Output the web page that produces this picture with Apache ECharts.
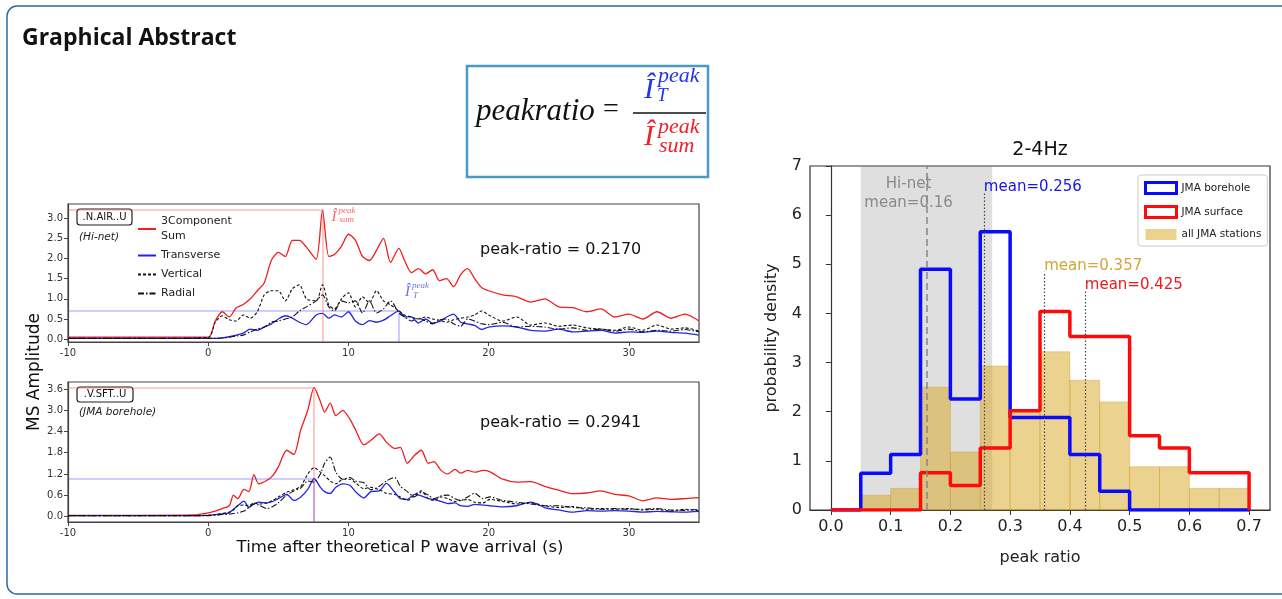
<!DOCTYPE html>
<html>
<head>
<meta charset="utf-8">
<script src="https://cdn.jsdelivr.net/npm/echarts@6/dist/echarts.min.js"></script>
<style>
  html, body { margin: 0; padding: 0; background: #fff; }
  #main { width: 1282px; height: 599px; }
</style>
</head>
<body>
<div id="main"></div>
<script>
// ---- waveform panel 1 (.N.AIR..U, Hi-net) ----
const topTime = [-10, -5, 0, 0.5, 1, 1.5, 2, 2.5, 3, 3.5, 4, 4.5, 5, 5.5, 6, 6.5, 7, 7.7, 8.15, 8.6,
    9, 9.5, 10, 10.5, 11, 11.5, 12, 12.5, 13, 13.6, 14, 14.5, 15, 15.5, 16, 16.5, 17, 17.5, 18, 18.5,
    19, 19.5, 20, 21, 22, 23, 24, 25, 26, 27, 28, 29, 30, 31, 32, 33, 34, 35];
const topSum = [0.05, 0.05, 0.05, 0.45, 0.68, 0.55, 0.78, 0.86, 1.0, 1.2, 1.4, 1.95, 2.15, 2.05, 2.45, 2.45, 2.28, 1.98, 3.2, 2.05,
    2.1, 2.3, 2.6, 2.45, 2.05, 1.95, 2.2, 2.5, 1.9, 2.25, 1.95, 1.65, 1.75, 1.62, 1.72, 1.45, 1.5, 1.3, 1.6, 1.75,
    1.5, 1.28, 1.2, 1.1, 1.05, 0.92, 1.0, 0.8, 0.78, 0.68, 0.75, 0.55, 0.62, 0.5, 0.68, 0.52, 0.62, 0.45];
const topTrans = [0.02, 0.02, 0.02, 0.02, 0.03, 0.06, 0.1, 0.15, 0.25, 0.22, 0.3, 0.38, 0.5, 0.58, 0.52, 0.42, 0.36, 0.6, 0.64, 0.52,
    0.6, 0.55, 0.68, 0.45, 0.36, 0.46, 0.42, 0.47, 0.58, 0.7, 0.56, 0.55, 0.4, 0.5, 0.4, 0.44, 0.55, 0.62, 0.42, 0.38,
    0.34, 0.24, 0.3, 0.33, 0.3, 0.22, 0.2, 0.25, 0.18, 0.2, 0.22, 0.15, 0.18, 0.17, 0.2, 0.17, 0.15, 0.1];
const topVert = [0.02, 0.02, 0.04, 0.42, 0.58, 0.48, 0.45, 0.6, 0.52, 0.68, 1.1, 1.2, 1.2, 0.95, 1.25, 1.35, 1.0, 0.95, 1.35, 0.85,
    0.75, 1.0, 1.15, 0.8, 1.05, 0.9, 1.2, 0.95, 0.85, 0.7, 0.6, 0.55, 0.5, 0.55, 0.5, 0.47, 0.42, 0.48, 0.52, 0.55,
    0.6, 0.7, 0.6, 0.45, 0.55, 0.35, 0.4, 0.32, 0.35, 0.28, 0.25, 0.22, 0.3, 0.22, 0.35, 0.25, 0.28, 0.2];
const topRad = [0.02, 0.02, 0.02, 0.02, 0.03, 0.05, 0.08, 0.1, 0.18, 0.25, 0.3, 0.42, 0.45, 0.5, 0.55, 0.7, 0.8, 0.95, 1.1, 0.8,
    0.7, 0.95, 0.9, 0.95, 0.65, 0.95, 0.65, 0.75, 0.95, 0.65, 0.55, 0.45, 0.52, 0.45, 0.38, 0.48, 0.5, 0.38, 0.32, 0.5,
    0.45, 0.38, 0.36, 0.42, 0.3, 0.32, 0.3, 0.25, 0.28, 0.22, 0.25, 0.2, 0.25, 0.18, 0.22, 0.2, 0.24, 0.18];

// ---- waveform panel 2 (.V.SFT..U, JMA borehole) ----
const botTime = [-10, -5, -1, 0, 0.5, 1, 1.5, 1.8, 2.1, 2.55, 2.9, 3.26, 3.6, 4.2, 4.6, 5, 5.6, 6.1, 6.6, 7.1, 7.55,
    8, 8.3, 8.7, 9.1, 9.6, 10.1, 10.5, 11.1, 11.6, 12.2, 12.7, 13.3, 13.7, 14.2, 14.7, 15.2, 15.7, 16.1, 16.6,
    17.1, 17.6, 18, 18.5, 19, 19.6, 20.1, 21, 22, 23, 24, 25, 26, 27, 28, 29, 30, 31, 32, 33, 34, 35];
const botSum = [0.03, 0.03, 0.04, 0.1, 0.15, 0.22, 0.3, 0.6, 0.5, 0.76, 0.7, 1.18, 0.92, 1.02, 1.15, 1.4, 1.87, 1.75, 2.45, 3.0, 3.65,
    3.25, 2.95, 3.2, 2.85, 3.0, 2.75, 2.45, 2.02, 2.15, 2.33, 2.1, 1.92, 1.95, 1.5, 1.72, 1.87, 1.5, 1.55, 1.3,
    1.2, 1.33, 1.22, 1.3, 1.25, 1.3, 1.26, 1.05, 0.97, 0.98, 0.85, 0.74, 0.64, 0.66, 0.72, 0.62, 0.58, 0.44, 0.52, 0.48, 0.5, 0.53];
const botTrans = [0.02, 0.02, 0.02, 0.03, 0.05, 0.07, 0.1, 0.2, 0.3, 0.43, 0.25, 0.35, 0.4, 0.38, 0.42, 0.5, 0.62, 0.45, 0.55, 0.76, 1.07,
    0.82, 0.7, 0.65, 0.82, 0.92, 0.88, 0.7, 0.52, 0.7, 0.72, 0.93, 0.68, 0.5, 0.48, 0.62, 0.58, 0.5, 0.48, 0.42,
    0.36, 0.38, 0.3, 0.28, 0.34, 0.32, 0.3, 0.27, 0.3, 0.4, 0.25, 0.18, 0.12, 0.16, 0.15, 0.16, 0.15, 0.12, 0.14, 0.13, 0.12, 0.14];
const botVert = [0.02, 0.02, 0.02, 0.03, 0.05, 0.08, 0.12, 0.18, 0.3, 0.32, 0.3, 0.38, 0.35, 0.38, 0.45, 0.55, 0.68, 0.75, 0.85, 1.2, 1.38,
    1.25, 1.15, 1.0, 0.92, 1.05, 1.05, 0.95, 0.78, 0.82, 0.75, 0.65, 0.62, 0.55, 0.45, 0.6, 0.72, 0.5, 0.45, 0.55,
    0.5, 0.42, 0.45, 0.48, 0.4, 0.38, 0.48, 0.42, 0.35, 0.38, 0.3, 0.25, 0.28, 0.2, 0.22, 0.2, 0.22, 0.18, 0.2, 0.15, 0.2, 0.16];
const botRad = [0.02, 0.02, 0.02, 0.02, 0.03, 0.05, 0.06, 0.08, 0.1, 0.15, 0.25, 0.35, 0.32, 0.22, 0.28, 0.38, 0.6, 0.72, 0.8, 1.0, 0.97,
    1.2, 1.5, 1.68, 1.25, 1.05, 1.1, 1.0, 0.95, 0.75, 0.85, 1.0, 1.1, 0.85, 0.7, 0.55, 0.68, 0.6, 0.5, 0.58,
    0.6, 0.5, 0.45, 0.55, 0.65, 0.5, 0.55, 0.45, 0.4, 0.35, 0.3, 0.3, 0.25, 0.24, 0.2, 0.22, 0.2, 0.2, 0.22, 0.18, 0.17, 0.2];

const waveXTicks = [-10, 0, 10, 20, 30];
const topYTicks = [0, 0.5, 1, 1.5, 2, 2.5, 3];
const botYTicks = [0, 0.6, 1.2, 1.8, 2.4, 3, 3.6];

// ---- peak ratio histogram (2-4Hz) ----
const binEdges = [0, 0.05, 0.1, 0.15, 0.2, 0.25, 0.3, 0.35, 0.4, 0.45, 0.5, 0.55, 0.6, 0.65, 0.7];
const boreholeDens = [0, 0.75, 1.13, 4.9, 2.26, 5.66, 1.88, 1.88, 1.13, 0.38, 0, 0, 0, 0];
const surfaceDens = [0, 0, 0, 0.76, 0.5, 1.26, 2.02, 4.04, 3.53, 3.53, 1.51, 1.26, 0.76, 0.76];
const allJmaDens = [0, 0.3, 0.44, 2.5, 1.18, 2.93, 1.98, 3.22, 2.64, 2.2, 0.88, 0.88, 0.44, 0.44];
const hinetSpan = [0.05, 0.27];
const meanNames = ["Hi-net", "JMA borehole", "all JMA stations", "JMA surface"];
const meanValues = [0.16, 0.256, 0.357, 0.425];
const histXTicks = [0, 0.1, 0.2, 0.3, 0.4, 0.5, 0.6, 0.7];

const FONT = "DejaVu Sans";
const pairs = (xs, ys) => xs.map((x, i) => [x, ys[i]]);
const stepData = (vals) => {
    const pts = vals.map((v, i) => [binEdges[i], v]);
    pts.push([binEdges[binEdges.length - 1], 0]);
    return pts;
};
const argmax = (arr) => arr.reduce((best, v, i) => (v > arr[best] ? i : best), 0);

const waveAxisX = (gridIndex) => ({
    type: "value",
    gridIndex: gridIndex,
    min: -10,
    max: 35,
    axisLine: { show: true, onZero: false, lineStyle: { color: "#444", width: 1.2 } },
    axisTick: { show: true, length: 4, customValues: waveXTicks, lineStyle: { color: "#444" } },
    axisLabel: { customValues: waveXTicks, fontSize: 10, color: "#333", margin: 6, fontFamily: FONT },
    splitLine: { show: false }
});
const waveAxisY = (gridIndex, min, max, ticks) => ({
    type: "value",
    gridIndex: gridIndex,
    min: min,
    max: max,
    axisLine: { show: true, onZero: false, lineStyle: { color: "#444", width: 1.2 } },
    axisTick: { show: true, length: 4, customValues: ticks, lineStyle: { color: "#444" } },
    axisLabel: {
        customValues: ticks, fontSize: 10, color: "#333", margin: 5, fontFamily: FONT,
        formatter: (v) => v.toFixed(1)
    },
    splitLine: { show: false }
});

const peakLines = (time, sum, trans, ymin) => {
    const iS = argmax(sum), iT = argmax(trans);
    return {
        red: [
            [{ coord: [-10, sum[iS]] }, { coord: [time[iS], sum[iS]] }],
            [{ coord: [time[iS], ymin] }, { coord: [time[iS], sum[iS]] }]
        ],
        blue: [
            [{ coord: [-10, trans[iT]] }, { coord: [time[iT], trans[iT]] }],
            [{ coord: [time[iT], ymin] }, { coord: [time[iT], trans[iT]] }]
        ]
    };
};

const waveSeries = (idx, time, sum, trans, vert, rad, ymin) => {
    const pk = peakLines(time, sum, trans, ymin);
    const common = { type: "line", xAxisIndex: idx, yAxisIndex: idx, showSymbol: false, symbol: "none", smooth: 0.25, silent: true };
    return [
        Object.assign({}, common, {
            name: "3Component Sum", data: pairs(time, sum), z: 3,
            lineStyle: { color: "#f21d1d", width: 1.3 }, itemStyle: { color: "#f21d1d" },
            markLine: {
                silent: true, symbol: "none", label: { show: false }, animation: false,
                lineStyle: { color: "rgba(255,60,60,0.35)", width: 1.6, type: "solid" },
                data: pk.red
            }
        }),
        Object.assign({}, common, {
            name: "Transverse", data: pairs(time, trans), z: 4,
            lineStyle: { color: "#2424e6", width: 1.3 }, itemStyle: { color: "#2424e6" },
            markLine: {
                silent: true, symbol: "none", label: { show: false }, animation: false,
                lineStyle: { color: "rgba(70,70,255,0.35)", width: 1.6, type: "solid" },
                data: pk.blue
            }
        }),
        Object.assign({}, common, {
            name: "Vertical", data: pairs(time, vert), z: 5,
            lineStyle: { color: "#111", width: 1.1, type: [3, 2] }, itemStyle: { color: "#111" }
        }),
        Object.assign({}, common, {
            name: "Radial", data: pairs(time, rad), z: 6,
            lineStyle: { color: "#111", width: 1.1, type: [6, 2, 1.5, 2] }, itemStyle: { color: "#111" }
        })
    ];
};

const histSeries = [
    {
        name: "all JMA stations",
        type: "custom",
        xAxisIndex: 2,
        yAxisIndex: 2,
        silent: true,
        z: 2,
        encode: { x: [0, 1], y: 2 },
        data: allJmaDens.map((v, i) => [binEdges[i], binEdges[i + 1], v]),
        itemStyle: { color: "rgba(218,165,32,0.5)" },
        renderItem: (params, api) => {
            const p0 = api.coord([api.value(0), api.value(2)]);
            const p1 = api.coord([api.value(1), 0]);
            return {
                type: "rect",
                shape: { x: p0[0], y: p0[1], width: p1[0] - p0[0], height: p1[1] - p0[1] },
                style: { fill: "rgba(218,165,32,0.5)", stroke: "rgba(200,150,30,0.35)", lineWidth: 1 }
            };
        },
        markArea: {
            silent: true,
            itemStyle: { color: "rgba(128,128,128,0.25)" },
            data: [[{ xAxis: hinetSpan[0] }, { xAxis: hinetSpan[1] }]]
        }
    },
    {
        name: "JMA borehole",
        type: "line",
        xAxisIndex: 2,
        yAxisIndex: 2,
        step: "end",
        symbol: "none",
        silent: true,
        z: 3,
        data: stepData(boreholeDens),
        lineStyle: { color: "#0a0aff", width: 3.5 },
        itemStyle: { color: "#0a0aff" }
    },
    {
        name: "JMA surface",
        type: "line",
        xAxisIndex: 2,
        yAxisIndex: 2,
        step: "end",
        symbol: "none",
        silent: true,
        z: 4,
        data: stepData(surfaceDens),
        lineStyle: { color: "#ff0a0a", width: 3.5 },
        itemStyle: { color: "#ff0a0a" },
        markLine: {
            silent: true,
            symbol: "none",
            label: { show: false },
            data: [
                [{ coord: [meanValues[0], 0], lineStyle: { color: "#888", type: [7, 4], width: 1.5 } }, { coord: [meanValues[0], 7] }],
                [{ coord: [meanValues[1], 0], lineStyle: { color: "#444", type: [1.5, 2], width: 1.2 } }, { coord: [meanValues[1], 6.45] }],
                [{ coord: [meanValues[2], 0], lineStyle: { color: "#444", type: [1.5, 2], width: 1.2 } }, { coord: [meanValues[2], 4.85] }],
                [{ coord: [meanValues[3], 0], lineStyle: { color: "#444", type: [1.5, 2], width: 1.2 } }, { coord: [meanValues[3], 4.45] }]
            ]
        }
    }
];

const option = {
    animation: false,
    textStyle: { fontFamily: FONT },
    grid: [
        { left: 68, top: 204, width: 631, height: 138, show: true, borderColor: "#444", borderWidth: 1.2 },
        { left: 68, top: 382, width: 631, height: 140, show: true, borderColor: "#444", borderWidth: 1.2 },
        { left: 810, top: 166, width: 460, height: 344, show: true, borderColor: "#333", borderWidth: 1.2 }
    ],
    xAxis: [
        waveAxisX(0),
        waveAxisX(1),
        {
            type: "value",
            gridIndex: 2,
            min: -0.035,
            max: 0.735,
            name: "peak ratio",
            nameLocation: "middle",
            nameGap: 40,
            nameTextStyle: { fontSize: 16, color: "#222", fontFamily: FONT },
            axisLine: { show: true, onZero: false, lineStyle: { color: "#333", width: 1.2 } },
            axisTick: { show: true, length: 5, customValues: histXTicks, lineStyle: { color: "#333" } },
            axisLabel: {
                customValues: histXTicks, fontSize: 16, color: "#222", margin: 9, fontFamily: FONT,
                formatter: (v) => v.toFixed(1)
            },
            splitLine: { show: false }
        }
    ],
    yAxis: [
        waveAxisY(0, -0.07, 3.35, topYTicks),
        waveAxisY(1, -0.16, 3.8, botYTicks),
        {
            type: "value",
            gridIndex: 2,
            min: 0,
            max: 7,
            interval: 1,
            name: "probability density",
            nameLocation: "middle",
            nameGap: 30,
            nameTextStyle: { fontSize: 16, color: "#222", fontFamily: FONT },
            axisLine: { show: true, lineStyle: { color: "#333", width: 1.2 } },
            axisTick: { show: true, length: 5, lineStyle: { color: "#333" } },
            axisLabel: { fontSize: 16, color: "#222", margin: 8, fontFamily: FONT },
            splitLine: { show: false }
        }
    ],
    legend: [
        {
            orient: "vertical",
            left: 137,
            top: 214,
            padding: 0,
            itemWidth: 18,
            itemHeight: 8,
            itemGap: 4,
            selectedMode: false,
            itemStyle: { opacity: 0 },
            textStyle: { fontSize: 11, color: "#222", lineHeight: 15, fontFamily: FONT },
            formatter: (name) => (name === "3Component Sum" ? "3Component\nSum" : name),
            data: ["3Component Sum", "Transverse", "Vertical", "Radial"]
        },
        {
            orient: "vertical",
            left: 1138,
            top: 175,
            padding: [6, 6, 6, 6],
            itemWidth: 31,
            itemHeight: 11,
            itemGap: 10,
            borderColor: "#ccc",
            borderWidth: 1,
            borderRadius: 3,
            backgroundColor: "rgba(255,255,255,0.85)",
            selectedMode: false,
            textStyle: { fontSize: 10.5, color: "#222", fontFamily: FONT },
            data: [
                { name: "JMA borehole", icon: "rect", itemStyle: { color: "#fff", borderColor: "#0a0aff", borderWidth: 3 } },
                { name: "JMA surface", icon: "rect", itemStyle: { color: "#fff", borderColor: "#ff0a0a", borderWidth: 3 } },
                { name: "all JMA stations", icon: "rect", itemStyle: { color: "rgba(218,165,32,0.5)", borderWidth: 0 } }
            ]
        }
    ],
    series: []
        .concat(waveSeries(0, topTime, topSum, topTrans, topVert, topRad, -0.07))
        .concat(waveSeries(1, botTime, botSum, botTrans, botVert, botRad, -0.16))
        .concat(histSeries)
};

const chart = echarts.init(document.getElementById("main"));
chart.setOption(option);

// annotations placed from data coordinates
const px = (grid, x, y) => chart.convertToPixel({ xAxisIndex: grid, yAxisIndex: grid }, [x, y]);
const serif = "Liberation Serif";

const iSumTop = argmax(topSum), iTTop = argmax(topTrans);
const pSum = px(0, topTime[iSumTop], topSum[iSumTop]);
const pT = px(0, topTime[iTTop], topTrans[iTTop]);

const hText = (grid, x, y, text, color, align) => {
    const p = px(grid, x, y);
    return {
        type: "text", x: p[0], y: p[1], z: 50,
        style: { text: text, fill: color, font: "15px '" + FONT + "'", align: align, verticalAlign: "middle" }
    };
};

const graphics = [
    // outer frame + title
    { type: "rect", shape: { x: 7, y: 6, width: 1300, height: 588, r: 10 }, style: { fill: "none", stroke: "#2d6aa3", lineWidth: 1.5 } },
    { type: "text", x: 22, y: 38, style: { text: "Graphical Abstract", font: "bold 23px 'Open Sans'", fill: "#111", verticalAlign: "middle" } },

    // formula box
    { type: "rect", shape: { x: 467, y: 66, width: 241, height: 111 }, style: { fill: "#fff", stroke: "#4a9ac6", lineWidth: 2.5 } },
    { type: "text", x: 476, y: 112, style: { text: "peakratio", font: "italic 31px '" + serif + "'", fill: "#111", verticalAlign: "middle" } },
    { type: "text", x: 603, y: 110, style: { text: "=", font: "28px '" + serif + "'", fill: "#111", verticalAlign: "middle" } },
    { type: "line", shape: { x1: 633, y1: 113, x2: 706, y2: 113 }, style: { stroke: "#111", lineWidth: 1.6 } },
    { type: "text", x: 644, y: 90, style: { text: "\u00CE", font: "italic 30px '" + serif + "'", fill: "#2335e8", verticalAlign: "middle" } },
    { type: "text", x: 658, y: 76, style: { text: "peak", font: "italic 22px '" + serif + "'", fill: "#2335e8", verticalAlign: "middle" } },
    { type: "text", x: 657, y: 96, style: { text: "T", font: "italic 19px '" + serif + "'", fill: "#2335e8", verticalAlign: "middle" } },
    { type: "text", x: 644, y: 137, style: { text: "\u00CE", font: "italic 30px '" + serif + "'", fill: "#f0202a", verticalAlign: "middle" } },
    { type: "text", x: 658, y: 127, style: { text: "peak", font: "italic 22px '" + serif + "'", fill: "#f0202a", verticalAlign: "middle" } },
    { type: "text", x: 659, y: 146, style: { text: "sum", font: "italic 22px '" + serif + "'", fill: "#f0202a", verticalAlign: "middle" } },

    // waveform station labels
    { type: "rect", shape: { x: 77, y: 209, width: 55, height: 16, r: 3 }, style: { fill: "#fff", stroke: "#222", lineWidth: 1.2 } },
    { type: "text", x: 104.5, y: 217, style: { text: ".N.AIR..U", font: "10px '" + FONT + "'", fill: "#111", align: "center", verticalAlign: "middle" } },
    { type: "text", x: 79, y: 237, style: { text: "(Hi-net)", font: "italic 10.5px '" + FONT + "'", fill: "#222", verticalAlign: "middle" } },
    { type: "rect", shape: { x: 77, y: 387, width: 56, height: 15, r: 3 }, style: { fill: "#fff", stroke: "#222", lineWidth: 1.2 } },
    { type: "text", x: 105, y: 394.5, style: { text: ".V.SFT..U", font: "10px '" + FONT + "'", fill: "#111", align: "center", verticalAlign: "middle" } },
    { type: "text", x: 79, y: 412, style: { text: "(JMA borehole)", font: "italic 10.5px '" + FONT + "'", fill: "#222", verticalAlign: "middle" } },
    { type: "text", x: 480, y: 250, style: { text: "peak-ratio = 0.2170", font: "16px '" + FONT + "'", fill: "#111", verticalAlign: "middle" } },
    { type: "text", x: 480, y: 423, style: { text: "peak-ratio = 0.2941", font: "16px '" + FONT + "'", fill: "#111", verticalAlign: "middle" } },

    // peak symbols in upper panel
    { type: "text", x: pSum[0] + 9, y: pSum[1] + 7, style: { text: "\u00CE", font: "italic 15px '" + serif + "'", fill: "rgba(240,70,70,0.8)", verticalAlign: "middle" } },
    { type: "text", x: pSum[0] + 16, y: pSum[1] + 1, style: { text: "peak", font: "italic 9px '" + serif + "'", fill: "rgba(240,70,70,0.8)", verticalAlign: "middle" } },
    { type: "text", x: pSum[0] + 17, y: pSum[1] + 10, style: { text: "sum", font: "italic 9px '" + serif + "'", fill: "rgba(240,70,70,0.8)", verticalAlign: "middle" } },
    { type: "text", x: pT[0] + 6, y: pT[1] - 19, style: { text: "\u00CE", font: "italic 15px '" + serif + "'", fill: "rgba(60,60,240,0.75)", verticalAlign: "middle" } },
    { type: "text", x: pT[0] + 13, y: pT[1] - 25, style: { text: "peak", font: "italic 9px '" + serif + "'", fill: "rgba(60,60,240,0.75)", verticalAlign: "middle" } },
    { type: "text", x: pT[0] + 14, y: pT[1] - 15, style: { text: "T", font: "italic 9px '" + serif + "'", fill: "rgba(60,60,240,0.75)", verticalAlign: "middle" } },

    // shared axis titles of the waveform panels
    { type: "text", x: 35, y: 372, rotation: Math.PI / 2, style: { text: "MS Amplitude", font: "17px '" + FONT + "'", fill: "#111", align: "center", verticalAlign: "middle" } },
    { type: "text", x: 400, y: 548, style: { text: "Time after theoretical P wave arrival (s)", font: "16.5px '" + FONT + "'", fill: "#111", align: "center", verticalAlign: "middle" } },

    // histogram title and mean labels
    { type: "text", x: 1040, y: 150, style: { text: "2-4Hz", font: "19px '" + FONT + "'", fill: "#111", align: "center", verticalAlign: "middle" } },
    hText(2, 0.13, 6.63, meanNames[0], "#8a8a8a", "center"),
    hText(2, 0.13, 6.25, "mean=" + meanValues[0], "#8a8a8a", "center"),
    hText(2, meanValues[1], 6.57, "mean=" + meanValues[1], "#1414f0", "left"),
    hText(2, meanValues[2], 4.97, "mean=" + meanValues[2], "#d6a337", "left"),
    hText(2, meanValues[3], 4.58, "mean=" + meanValues[3], "#f01818", "left")
];

chart.setOption({ graphic: graphics });
</script>
</body>
</html>
